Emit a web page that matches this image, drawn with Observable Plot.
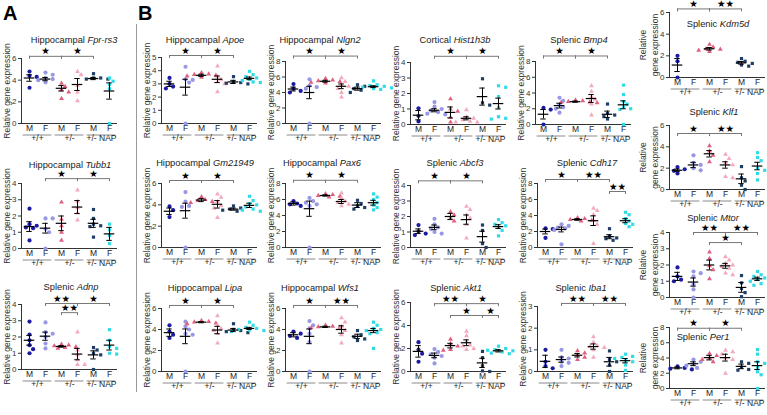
<!DOCTYPE html>
<html><head><meta charset="utf-8">
<script src="https://cdn.jsdelivr.net/npm/d3@7"></script>
<script src="https://cdn.jsdelivr.net/npm/@observablehq/plot@0.6"></script>
<style>
html,body{margin:0;padding:0;background:#fff;}
#fig{position:relative;width:767px;height:415px;overflow:hidden;background:#fff;font-family:"Liberation Sans",Arial,sans-serif;}
.cell{position:absolute;}
.cell svg{max-width:none;overflow:visible;display:block;}
.ttl{position:absolute;transform:translateX(-50%);white-space:nowrap;font-size:9.3px;line-height:12px;color:#222;}
.lett{position:absolute;font-weight:bold;font-size:20px;line-height:20px;color:#000;}
.sep{position:absolute;background:#9a9a9a;}
</style></head><body><div id="fig"></div><script>
// ---- shared categories ----
const sexLabels = ["M", "F", "M", "F", "M", "F"];
const groupLabels = ["+/+", "+/-", "+/- NAP"];
const groupColors = ["#1c1ca3", "#9898e4", "#e2607f", "#f3aabd", "#1f3e66", "#2fdce6"];
const groupSymbols = ["circle", "circle", "triangle", "triangle", "square", "square"];

// ---- Panel A ----
const fprRs3Points = [[4.8, 4.4, 4.3, 3.3], [4.7, 4.5, 4.2, 4.1, 4.0, 3.8], [3.7, 3.4, 3.1, 2.9, 2.3], [4.8, 4.5, 3.5, 2.9, 2.1], [4.6, 4.2, 4.2, 4.1, 4.1], [4.2, 3.9, 3.6, 3.2, 0.0]];
const fprRs3Mean = [4.2, 4.1, 3.25, 3.6, 4.15, 3.0];
const fprRs3Sem = [0.3, 0.15, 0.25, 0.55, 0.1, 0.75];
const fprRs3Brackets = [[0, 2, 6.2, 1], [2, 4, 6.2, 1]];

const tubb1Points = [[2.45, 1.5, 1.4, 1.3, 1.25, 0.5], [1.85, 1.85, 1.2, 1.0, 0.0], [2.85, 1.8, 1.4, 1.0, 0.5], [3.6, 2.9, 2.5, 2.2, 1.75], [2.4, 1.85, 1.5, 1.4, 1.35, 0.7], [1.5, 1.15, 0.8, 0.3]];
const tubb1Mean = [1.35, 1.25, 1.55, 2.55, 1.55, 0.9];
const tubb1Sem = [0.3, 0.3, 0.45, 0.4, 0.25, 0.4];
const tubb1Brackets = [[1, 3, 4.3, 1], [3, 5, 4.3, 1]];

const adnpPoints = [[2.95, 2.15, 1.8, 1.5, 1.25, 1.0], [2.9, 2.3, 2.2, 2.0, 1.6, 1.3], [1.55, 1.5, 1.45, 1.4, 1.35, 1.3], [2.3, 1.2, 0.9, 0.6, 0.3, 0.3], [1.35, 1.2, 1.0, 0.9, 0.0], [2.45, 1.8, 1.4, 1.3, 1.0, 0.95]];
const adnpMean = [1.8, 2.05, 1.42, 0.95, 0.9, 1.5];
const adnpSem = [0.3, 0.25, 0.05, 0.35, 0.25, 0.3];
const adnpBrackets = [[1, 3, 4.06, 2], [3, 5, 4.06, 1], [2, 3, 3.5, 2]];

// ---- Panel B ----
const apoePoints = [[3.45, 3.0, 2.8, 2.65], [4.3, 3.35, 3.3, 3.1, 0.0], [3.85, 3.75, 3.7, 3.65, 3.6, 3.5], [4.35, 3.55, 3.35, 3.15, 3.0, 2.4], [3.55, 3.15, 3.1, 3.05, 3.0], [3.95, 3.7, 3.55, 3.45, 3.35, 3.25, 3.15, 3.1]];
const apoeMean = [3.0, 2.75, 3.65, 3.35, 3.15, 3.42];
const apoeSem = [0.2, 0.6, 0.08, 0.25, 0.12, 0.1];
const apoeBrackets = [[0, 2, 5.15, 1], [2, 4, 5.15, 1]];

const nlgn2Points = [[5.1, 4.5, 4.2, 4.0], [5.7, 4.9, 4.7, 4.5, 0.0], [5.8, 5.6, 5.5, 5.4, 5.3, 5.2], [5.9, 5.4, 5.0, 4.8, 4.5, 4.0, 3.4], [5.0, 4.8, 4.5, 4.3, 4.0], [5.5, 5.0, 4.9, 4.8, 4.7, 4.6, 4.5, 4.4]];
const nlgn2Mean = [4.45, 4.0, 5.45, 4.8, 4.5, 4.75];
const nlgn2Sem = [0.25, 0.8, 0.12, 0.3, 0.2, 0.12];
const nlgn2Brackets = [[0, 2, 8.7, 1], [2, 4, 8.7, 1]];

const hist1h3bPoints = [[1.05, 0.55, 0.2], [1.45, 1.15, 1.0, 0.9, 0.8, 0.7, 0.65], [1.65, 1.0, 0.85, 0.45, 0.15], [0.95, 0.5, 0.4, 0.3, 0.2, 0.15, 0.15], [2.95, 1.4, 1.25], [2.5, 2.4, 1.8, 1.1, 0.5, 0.4, 0.35]];
const hist1h3bMean = [0.6, 0.92, 0.78, 0.4, 1.8, 1.35];
const hist1h3bSem = [0.3, 0.1, 0.35, 0.1, 0.55, 0.35];
const hist1h3bBrackets = [[1, 3, 4.4, 1], [3, 5, 4.4, 1]];

const bmp4Points = [[2.1, 1.9, 0.0], [3.4, 3.0, 2.5, 2.2, 2.0, 1.5], [3.1, 3.0, 2.9, 2.85, 2.8, 2.75], [4.9, 4.2, 3.5, 3.2, 2.6, 1.2], [2.6, 1.4, 1.2, 1.0, 0.7], [5.0, 3.8, 2.9, 2.6, 2.2, 2.0, 1.9, 0.0]];
const bmp4Mean = [1.3, 2.4, 2.9, 3.3, 1.3, 2.5];
const bmp4Sem = [0.6, 0.3, 0.08, 0.5, 0.4, 0.5];
const bmp4Brackets = [[0, 2, 8.7, 1], [2, 4, 8.7, 1]];

const gm21949Points = [[3.85, 3.5, 2.85], [5.2, 4.3, 3.9, 3.8, 0.0], [4.75, 4.5, 4.4, 4.3, 4.2], [5.0, 4.7, 4.3, 3.9, 3.7, 2.8], [3.9, 3.7, 3.6, 3.5, 3.4], [4.8, 4.4, 4.1, 4.0, 3.8, 3.6, 3.5, 3.4]];
const gm21949Mean = [3.4, 3.45, 4.45, 4.05, 3.6, 3.95];
const gm21949Sem = [0.3, 0.7, 0.15, 0.35, 0.1, 0.2];
const gm21949Brackets = [[0, 2, 6.28, 1], [2, 4, 6.28, 1]];

const pax6Points = [[5.8, 5.5, 5.4, 5.2], [6.2, 5.8, 5.6, 5.4, 5.2, 0.0], [6.7, 6.6, 6.5, 6.4, 6.3], [6.8, 6.2, 5.8, 5.6, 5.4, 5.2], [5.9, 5.5, 5.2, 5.0, 4.8], [6.7, 6.3, 6.0, 5.6, 5.3, 5.0, 4.7]];
const pax6Mean = [5.5, 4.85, 6.5, 5.75, 5.3, 5.6];
const pax6Sem = [0.2, 0.95, 0.08, 0.25, 0.3, 0.3];
const pax6Brackets = [[0, 2, 8.4, 1], [2, 4, 8.4, 1]];

const abcf3Points = [[1.45, 1.05, 0.9, 0.8], [1.85, 1.5, 1.3, 1.2, 1.0, 0.9], [2.3, 2.1, 1.9, 1.7], [2.65, 2.45, 2.1, 1.9, 1.5, 0.6], [1.45, 1.1, 0.25, 0.0], [1.8, 1.6, 1.5, 1.4, 1.3, 1.1, 0.75]];
const abcf3Mean = [1.05, 1.3, 2.0, 1.8, 0.7, 1.35];
const abcf3Sem = [0.15, 0.15, 0.2, 0.3, 0.35, 0.12];
const abcf3Brackets = [[0, 2, 4.3, 1], [2, 4, 4.3, 1]];

const cdh17Points = [[2.4, 2.3, 1.2], [2.9, 2.7, 2.5, 2.4, 2.2, 0.4], [3.7, 3.6, 3.5, 3.4, 3.3], [4.9, 4.6, 4.1, 3.4, 2.9, 0.5], [2.35, 1.4, 1.2, 1.1, 0.9], [4.4, 4.1, 3.6, 3.3, 3.0, 2.9, 2.6]];
const cdh17Mean = [2.0, 2.25, 3.5, 3.35, 1.35, 3.35];
const cdh17Sem = [0.3, 0.3, 0.1, 0.6, 0.25, 0.25];
const cdh17Brackets = [[0, 2, 8.5, 1], [2, 4, 8.5, 2], [4, 5, 7.0, 2]];

const lipaPoints = [[4.4, 3.8, 3.5, 3.2], [4.75, 4.3, 4.0, 3.6, 3.5, 0.0], [4.85, 4.75, 4.7, 4.6, 4.55], [5.3, 4.4, 4.1, 3.9, 3.6, 2.7], [4.55, 4.0, 3.9, 3.8, 3.7], [4.7, 4.4, 4.2, 4.1, 4.0, 3.95, 3.9, 3.8]];
const lipaMean = [3.7, 3.35, 4.7, 3.95, 3.95, 4.1];
const lipaSem = [0.35, 0.7, 0.06, 0.35, 0.15, 0.1];
const lipaBrackets = [[0, 2, 6.29, 1], [2, 4, 6.29, 1]];

const wfs1Points = [[3.8, 3.6, 3.4, 3.2], [4.8, 4.4, 4.1, 3.6, 2.8, 0.0], [4.4, 4.3, 4.25, 4.2, 4.15], [5.1, 4.7, 4.3, 3.9, 3.5, 2.7], [3.9, 3.5, 3.3, 3.1, 2.95], [4.7, 4.4, 4.1, 4.0, 3.9, 3.7, 3.6, 2.2]];
const wfs1Mean = [3.5, 3.35, 4.25, 4.0, 3.35, 3.9];
const wfs1Sem = [0.2, 0.7, 0.06, 0.35, 0.2, 0.2];
const wfs1Brackets = [[0, 2, 6.29, 1], [2, 4, 6.29, 2]];

const akt1Points = [[2.55, 1.9, 1.55, 0.85], [1.95, 1.7, 1.5, 1.35, 1.2, 0.7], [2.8, 2.4, 2.2, 1.9, 1.85], [3.5, 3.1, 2.6, 2.3, 2.2, 2.0, 1.9], [1.75, 1.2, 0.5, 0.05, 0.0], [2.2, 2.0, 1.9, 1.85, 1.8, 1.7, 1.6, 1.55]];
const akt1Mean = [1.75, 1.4, 2.25, 2.5, 0.75, 1.8];
const akt1Sem = [0.5, 0.2, 0.2, 0.25, 0.4, 0.1];
const akt1Brackets = [[1, 3, 5.9, 2], [3, 5, 5.9, 1], [2, 4, 4.87, 1], [4, 5, 4.87, 1]];

const iba1Points = [[1.0, 0.45, 0.25, 0.15], [1.0, 0.65, 0.6, 0.45, 0.4, 0.25], [0.95, 0.85, 0.75, 0.65, 0.55], [1.6, 1.35, 1.2, 1.15, 1.1, 1.0, 0.65], [0.95, 0.55, 0.45, 0.3, 0.0], [0.8, 0.7, 0.65, 0.6, 0.5, 0.45, 0.3, 0.05]];
const iba1Mean = [0.47, 0.55, 0.75, 1.15, 0.45, 0.5];
const iba1Sem = [0.28, 0.12, 0.08, 0.12, 0.2, 0.1];
const iba1Brackets = [[1, 3, 3.14, 2], [3, 5, 3.14, 2]];

const kdm5dPoints = [[2.0, 1.5, 0.0], [], [3.05, 2.8, 2.65, 2.6, 2.5, 2.4], [], [1.75, 1.5, 1.4, 1.3, 1.15, 1.05], []];
const kdm5dMean = [1.15, null, 2.65, null, 1.35, null];
const kdm5dSem = [0.6, null, 0.12, null, 0.12, null];
const kdm5dBrackets = [[0, 2, 6.33, 1], [2, 4, 6.33, 2]];

const klf1Points = [[2.1, 1.9, 1.75, 1.5], [3.2, 2.5, 2.3, 2.0, 1.8], [4.1, 3.6, 3.2, 2.6], [3.3, 2.9, 2.5, 2.3, 1.2, 1.1], [2.15, 1.1, 0.8, 0.4, 0.0], [3.45, 3.0, 2.7, 2.0, 1.8, 1.5, 0.9]];
const klf1Mean = [1.8, 2.3, 3.35, 2.3, 1.0, 2.2];
const klf1Sem = [0.12, 0.25, 0.3, 0.3, 0.45, 0.35];
const klf1Brackets = [[0, 2, 5.25, 1], [2, 4, 5.25, 2]];

const mtorPoints = [[1.85, 1.3, 1.1, 1.0], [1.6, 1.5, 1.3, 0.8, 0.5, 0.0], [2.8, 2.4, 1.95, 1.7, 1.15], [2.5, 2.3, 2.1, 2.0, 1.9, 1.8, 1.5, 1.4], [1.35, 0.9, 0.55, 0.3, 0.05], [1.6, 1.4, 1.3, 1.2, 1.1, 1.0, 0.85, 0.75]];
const mtorMean = [1.3, 0.95, 2.0, 1.95, 0.62, 1.15];
const mtorSem = [0.25, 0.25, 0.3, 0.15, 0.3, 0.1];
const mtorBrackets = [[1, 3, 4.0, 2], [3, 5, 4.0, 2], [2, 4, 3.38, 1]];

const per1Points = [[2.9, 2.7, 2.6, 2.5], [3.8, 3.5, 3.2, 3.0, 2.7], [4.6, 4.3, 4.0, 3.8, 3.5], [5.0, 4.8, 4.5, 4.0, 3.8, 2.0], [3.5, 3.3, 2.8, 2.5, 2.4], [5.1, 4.5, 3.5, 3.3, 2.8, 2.2, 1.8, 0.0]];
const per1Mean = [2.7, 3.25, 4.05, 4.05, 2.9, 3.0];
const per1Sem = [0.12, 0.25, 0.3, 0.45, 0.3, 0.5];
const per1Brackets = [[0, 2, 7.9, 1], [2, 4, 7.9, 1]];

const yLabel = "Relative gene expression";
const yLabel2 = "Relative\ngene expression";

// ---- layout ----
const panels = [
  {pre: "Hippocampal ", gene: "Fpr-rs3", pts: fprRs3Points, mean: fprRs3Mean, sem: fprRs3Sem, br: fprRs3Brackets, ymax: 6, ticks: [0, 2, 4, 6], ax: 21, top: 58, zero: 123, tx: 74, ty: 40},
  {pre: "Hippocampal ", gene: "Tubb1", pts: tubb1Points, mean: tubb1Mean, sem: tubb1Sem, br: tubb1Brackets, ymax: 4, ticks: [0, 1, 2, 3, 4], ax: 21, top: 183, zero: 248, tx: 70, ty: 165},
  {pre: "Splenic ", gene: "Adnp", pts: adnpPoints, mean: adnpMean, sem: adnpSem, br: adnpBrackets, ymax: 4, ticks: [0, 1, 2, 3, 4], ax: 21, top: 304, zero: 369, tx: 71, ty: 287},
  {pre: "Hippocampal ", gene: "Apoe", pts: apoePoints, mean: apoeMean, sem: apoeSem, br: apoeBrackets, ymax: 5, ticks: [0, 1, 2, 3, 4, 5], ax: 161, top: 57, zero: 123, tx: 205, ty: 40},
  {pre: "Hippocampal ", gene: "Nlgn2", pts: nlgn2Points, mean: nlgn2Mean, sem: nlgn2Sem, br: nlgn2Brackets, ymax: 8, ticks: [0, 2, 4, 6, 8], ax: 285, top: 61, zero: 123, tx: 320, ty: 40},
  {pre: "Cortical ", gene: "Hist1h3b", pts: hist1h3bPoints, mean: hist1h3bMean, sem: hist1h3bSem, br: hist1h3bBrackets, ymax: 4, ticks: [0, 1, 2, 3, 4], ax: 410, top: 62, zero: 124, tx: 455, ty: 40},
  {pre: "Splenic ", gene: "Bmp4", pts: bmp4Points, mean: bmp4Mean, sem: bmp4Sem, br: bmp4Brackets, ymax: 8, ticks: [0, 2, 4, 6, 8], ax: 535, top: 61, zero: 124, tx: 579, ty: 40},
  {pre: "Hippocampal ", gene: "Gm21949", pts: gm21949Points, mean: gm21949Mean, sem: gm21949Sem, br: gm21949Brackets, ymax: 6, ticks: [0, 2, 4, 6], ax: 161, top: 183, zero: 247, tx: 205, ty: 163},
  {pre: "Hippocampal ", gene: "Pax6", pts: pax6Points, mean: pax6Mean, sem: pax6Sem, br: pax6Brackets, ymax: 8, ticks: [0, 2, 4, 6, 8], ax: 285, top: 183, zero: 247, tx: 322, ty: 163},
  {pre: "Splenic ", gene: "Abcf3", pts: abcf3Points, mean: abcf3Mean, sem: abcf3Sem, br: abcf3Brackets, ymax: 4, ticks: [0, 1, 2, 3, 4], ax: 410, top: 185, zero: 247, tx: 455, ty: 163},
  {pre: "Splenic ", gene: "Cdh17", pts: cdh17Points, mean: cdh17Mean, sem: cdh17Sem, br: cdh17Brackets, ymax: 8, ticks: [0, 2, 4, 6, 8], ax: 537, top: 183, zero: 247, tx: 587, ty: 163},
  {pre: "Hippocampal ", gene: "Lipa", pts: lipaPoints, mean: lipaMean, sem: lipaSem, br: lipaBrackets, ymax: 6, ticks: [0, 2, 4, 6], ax: 161, top: 308, zero: 371, tx: 205, ty: 288},
  {pre: "Hippocampal ", gene: "Wfs1", pts: wfs1Points, mean: wfs1Mean, sem: wfs1Sem, br: wfs1Brackets, ymax: 6, ticks: [0, 2, 4, 6], ax: 285, top: 308, zero: 371, tx: 320, ty: 288},
  {pre: "Splenic ", gene: "Akt1", pts: akt1Points, mean: akt1Mean, sem: akt1Sem, br: akt1Brackets, ymax: 6, ticks: [0, 2, 4, 6], ax: 410, top: 302, zero: 371, tx: 456, ty: 288},
  {pre: "Splenic ", gene: "Iba1", pts: iba1Points, mean: iba1Mean, sem: iba1Sem, br: iba1Brackets, ymax: 3, ticks: [0, 1, 2, 3], ax: 537, top: 306, zero: 371, tx: 581, ty: 288},
  {pre: "Splenic ", gene: "Kdm5d", pts: kdm5dPoints, mean: kdm5dMean, sem: kdm5dSem, br: kdm5dBrackets, ymax: 6, ticks: [0, 2, 4, 6], ax: 669, top: 12, zero: 77, tx: 718, ty: 24, two: true},
  {pre: "Splenic ", gene: "Klf1", pts: klf1Points, mean: klf1Mean, sem: klf1Sem, br: klf1Brackets, ymax: 6, ticks: [0, 2, 4, 6], ax: 669, top: 125, zero: 189, tx: 714, ty: 112, two: true},
  {pre: "Splenic ", gene: "Mtor", pts: mtorPoints, mean: mtorMean, sem: mtorSem, br: mtorBrackets, ymax: 4, ticks: [0, 1, 2, 3, 4], ax: 669, top: 232, zero: 297, tx: 713, ty: 218, two: true},
  {pre: "Splenic ", gene: "Per1", pts: per1Points, mean: per1Mean, sem: per1Sem, br: per1Brackets, ymax: 8, ticks: [0, 2, 4, 6, 8], ax: 669, top: 327, zero: 388, tx: 703, ty: 337, two: true}
];

const PXU = 16; // px per category step
function swarm(vals, g, unit) {
  const placed = [];
  const out = [];
  [...vals].sort((a, b) => b - a).forEach(v => {
    const ypx = v * unit;
    let off = 0;
    for (let k = 0; k < 30; k++) {
      const cand = k === 0 ? 0 : (k % 2 ? 1 : -1) * Math.ceil(k / 2) * 3.6;
      if (placed.every(p => Math.hypot(p.x - cand, p.y - ypx) >= 4.3)) { off = cand; break; }
    }
    placed.push({x: off, y: ypx});
    out.push({x: g + off / PXU, y: v, g});
  });
  return out;
}

const fig = document.getElementById("fig");
function addDiv(cls, css, html) {
  const d = document.createElement("div");
  d.className = cls;
  Object.assign(d.style, css);
  if (html != null) d.innerHTML = html;
  fig.appendChild(d);
  return d;
}
addDiv("lett", {left: "3px", top: "3px"}, "A");
addDiv("lett", {left: "138px", top: "3px"}, "B");
addDiv("sep", {left: "136px", top: "24px", width: "1px", height: "368px"});

for (const p of panels) {
  const W = 96, H = p.zero - p.top;
  const unit = H / p.ymax;
  const dots = p.pts.flatMap((vals, g) => swarm(vals, g, unit));
  const stats = p.mean.map((m, g) => ({g, m, s: p.sem[g]})).filter(d => d.m != null);
  const caps = stats.flatMap(d => [{g: d.g, y: d.m - d.s}, {g: d.g, y: d.m + d.s}]);
  const br = p.br.map(([a, b, y, n]) => ({a, b, y, n}));
  const ends = br.flatMap(d => [{x: d.a, y: d.y}, {x: d.b, y: d.y}]);
  const tk = 3 / unit;
  const sexData = sexLabels.map((s, i) => ({i, s}));
  const marks = [
    Plot.ruleX([-0.5], {stroke: "#333", strokeWidth: 1}),
    Plot.ruleY([0], {stroke: "#333", strokeWidth: 1}),
    Plot.ruleY(p.ticks, {y: d => d, x1: -0.5 - 3 / PXU, x2: -0.5, stroke: "#333"}),
    Plot.text(p.ticks, {y: d => d, x: -0.5, dx: -5, text: d => String(d), textAnchor: "end", fontSize: 8, fill: "#333"}),
    Plot.text(sexData, {x: "i", text: "s", frameAnchor: "bottom", dy: 7, fontSize: 8.5, fill: "#222"}),
    Plot.ruleY([0, 1, 2], {y: () => -11.5 / unit, x1: g => 2 * g - 0.4, x2: g => 2 * g + 1.4, stroke: "#8a8a8a", strokeWidth: 1}),
    Plot.text([0, 1, 2], {x: g => 2 * g + 0.5, text: g => groupLabels[g], frameAnchor: "bottom", dy: 17.5, fontSize: 8.5, fill: "#222"}),
    Plot.text([p.two ? yLabel2 : yLabel], {text: d => d, frameAnchor: "left", textAnchor: "middle", rotate: -90, dx: p.two ? -21 : -15, fontSize: 8.5, lineHeight: 1.4, fill: "#333"})
  ];
  for (let g = 0; g < 6; g++) {
    const r = groupSymbols[g] === "circle" ? 2.1 : 1.8;
    marks.push(Plot.dot(dots.filter(d => d.g === g), {x: "x", y: "y", r, fill: groupColors[g], symbol: groupSymbols[g], stroke: "none"}));
  }
  marks.push(
    Plot.ruleY(stats, {y: "m", x1: d => d.g - 0.33, x2: d => d.g + 0.33, stroke: "#000", strokeWidth: 1.2}),
    Plot.ruleX(stats, {x: "g", y1: d => d.m - d.s, y2: d => d.m + d.s, stroke: "#000", strokeWidth: 1}),
    Plot.ruleY(caps, {y: "y", x1: d => d.g - 0.17, x2: d => d.g + 0.17, stroke: "#000", strokeWidth: 1}),
    Plot.ruleY(br, {y: "y", x1: "a", x2: "b", stroke: "#777", strokeWidth: 1}),
    Plot.ruleX(ends, {x: "x", y1: "y", y2: d => d.y - tk, stroke: "#777", strokeWidth: 1}),
    Plot.text(br, {x: d => (d.a + d.b) / 2, y: "y", dy: -5, text: d => "★".repeat(d.n), fontSize: 9.5, fontFamily: "DejaVu Sans", fill: "#000"})
  );
  const chart = Plot.plot({
    width: W, height: H, margin: 0,
    x: {domain: [-0.5, 5.5], axis: null},
    y: {domain: [0, p.ymax], axis: null},
    style: {overflow: "visible", background: "transparent", fontFamily: "Liberation Sans, Arial, sans-serif", fontSize: "8px"},
    marks
  });
  const cell = addDiv("cell", {left: p.ax + "px", top: p.top + "px", width: W + "px", height: H + "px"});
  cell.appendChild(chart);
  addDiv("ttl", {left: p.tx + "px", top: (p.ty - 6) + "px"}, p.pre + "<i>" + p.gene + "</i>");
}
</script></body></html>
